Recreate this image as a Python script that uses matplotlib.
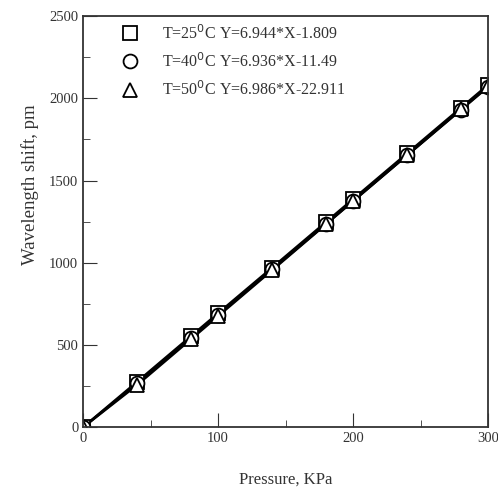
import matplotlib
matplotlib.use("Agg")
import matplotlib.pyplot as plt
from matplotlib.ticker import MultipleLocator

plt.rcParams['font.family'] = ['Liberation Serif', 'DejaVu Serif']

pressure = [0, 40, 80, 100, 140, 180, 200, 240, 280, 300]
shift_25 = [0, 276, 554, 693, 970, 1248, 1387, 1665, 1943, 2082]
shift_40 = [0, 266, 544, 683, 960, 1237, 1376, 1654, 1931, 2070]
shift_50 = [0, 257, 536, 676, 955, 1235, 1375, 1654, 1934, 2073]
labels = [r"T=25$^0$C Y=6.944*X-1.809",
          r"T=40$^0$C Y=6.936*X-11.49",
          r"T=50$^0$C Y=6.986*X-22.911"]
markers = ['s', 'o', '^']

fig = plt.figure(figsize=(4.98, 4.91), dpi=100)
ax = fig.add_axes([0.167, 0.130, 0.813, 0.837])

# fitted lines first, open markers on top (markers only go to the legend)
for ys in [shift_25, shift_40, shift_50]:
    ax.plot(pressure, ys, color='k', lw=1.8)
for ys, m, lab in zip([shift_25, shift_40, shift_50], markers, labels):
    ax.plot(pressure, ys, ls='none', marker=m, markersize=10,
            markerfacecolor='white', markeredgecolor='k', markeredgewidth=1.3,
            label=lab)

ax.set_xlim(0, 300)
ax.set_ylim(0, 2500)
ax.xaxis.set_major_locator(MultipleLocator(100))
ax.xaxis.set_minor_locator(MultipleLocator(50))
ax.yaxis.set_major_locator(MultipleLocator(500))
ax.yaxis.set_minor_locator(MultipleLocator(250))
ax.tick_params(which='both', direction='in', labelsize=10.5, colors='#333333')
ax.tick_params(which='major', length=10)
ax.tick_params(which='minor', length=5)
for sp in ax.spines.values():
    sp.set_linewidth(1.3)
    sp.set_color('#333333')

ax.set_xlabel('Pressure, KPa', fontsize=12, color='#333333')
ax.xaxis.set_label_coords(0.5, -0.109)
ax.set_ylabel('Wavelength shift, pm', fontsize=13.5, color='#333333')
ax.yaxis.set_label_coords(-0.109, 0.589)

ax.legend(loc='upper left', bbox_to_anchor=(107.6 / 498, 1 - 17.6 / 491),
          bbox_transform=fig.transFigure, borderaxespad=0, borderpad=0.4,
          frameon=False, fontsize=11.5, handlelength=2, handletextpad=1.0,
          labelspacing=0.6, labelcolor='#333333')

fig.savefig('out.png', dpi=100)
